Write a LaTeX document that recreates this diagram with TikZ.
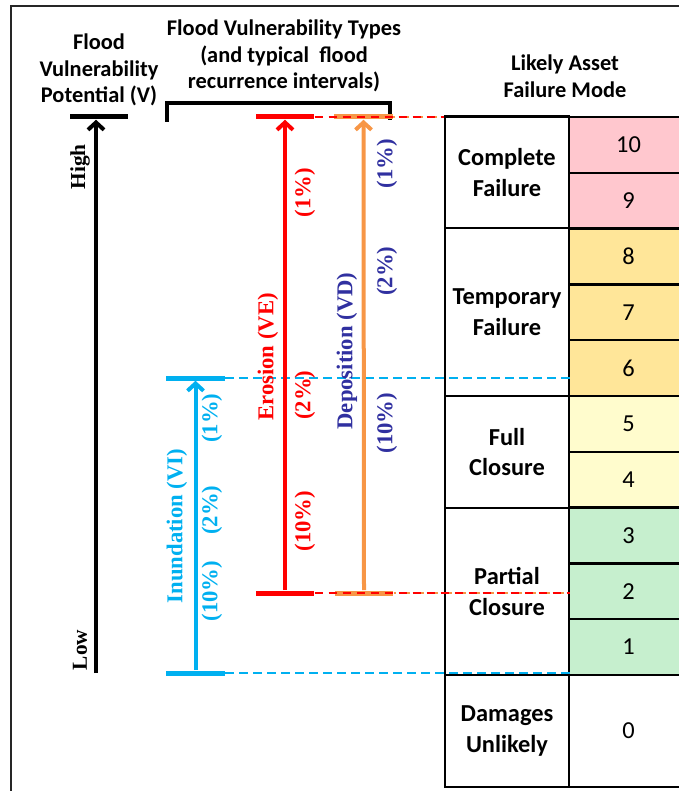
\documentclass[tikz,border=0pt]{standalone}
\usepackage{fontspec}
\setmainfont{Liberation Serif}
\newfontfamily\carlito{Carlito}
\usetikzlibrary{arrows.meta,positioning}
\definecolor{inund}{HTML}{00B0F0}
\definecolor{eros}{HTML}{FF0000}
\definecolor{depo}{HTML}{F79646}
\definecolor{depotext}{HTML}{3030A0}
\definecolor{failc}{HTML}{FFC7CE}
\definecolor{tempc}{HTML}{FFE699}
\definecolor{fullc}{HTML}{FFFCCD}
\definecolor{partc}{HTML}{C6EFCE}

\begin{document}
\begin{tikzpicture}[
    x=0.75pt, y=-0.75pt,
    head/.style={align=center, font=\carlito\bfseries\fontsize{16.8}{20}\selectfont},
    modecell/.style={draw, line width=1.8pt, minimum width=93pt, inner sep=0pt,
                     align=center, font=\carlito\bfseries\fontsize{18.3}{23}\selectfont},
    numcell/.style={draw, line width=1.8pt, minimum width=89.25pt, minimum height=41.85pt,
                    inner sep=0pt, font=\carlito\fontsize{18.3}{20}\selectfont},
    rot/.style={rotate=90, font=\bfseries\fontsize{17}{18}\selectfont},
    hbar/.style={fill, minimum width=44pt, minimum height=3.75pt, inner sep=0pt},
    arr/.style={line width=3pt, -{Straight Barb[length=5.5pt,width=12pt]}},
    guide/.style={line width=1.6pt, dash pattern=on 6.5pt off 4pt}
]
  \useasboundingbox (0,0) rectangle (678,791);
  \draw[line width=1pt, black!85] (11,6) rectangle (690,800);

  % headings
  \node[head] (vhead) at (99,70) {Flood\\Vulnerability\\Potential (V)};
  \node[head] (thead) at (284,56) {Flood Vulnerability Types\\(and typical~ flood\\recurrence intervals)};
  \node[head] (mhead) at (565,76) {Likely Asset\\Failure Mode};
  \draw[line width=3pt] (167,122) -- (167,103) -- (390,103) -- (390,120);

  % failure modes table
  \node[modecell, minimum height=83.7pt] (complete) at (507,172.5) {Complete\\Failure};
  \node[modecell, minimum height=125.55pt] (temporary) at (507,312) {Temporary\\Failure};
  \node[modecell, minimum height=83.7pt] (full) at (507,452) {Full\\Closure};
  \node[modecell, minimum height=125.55pt] (partial) at (507,591.5) {Partial\\Closure};
  \node[modecell, minimum height=84pt] (unlikely) at (507,731) {Damages\\Unlikely};
  \foreach \n/\c in {10/failc,9/failc,8/tempc,7/tempc,6/tempc,5/fullc,4/fullc,3/partc,2/partc,1/partc}
    \node[numcell, fill=\c] (n\n) at (628.5,{117+(10.5-\n)*55.8}) {\n};
  \node[numcell, minimum height=84pt] (n0) at (628.5,731) {0};

  % potential axis
  \node[hbar] (vhi) at (99,117) {};
  \coordinate (vlo) at (96,673);
  \draw[arr] (vlo) -- (vlo |- vhi.south);
  \node[rot, font=\bfseries\fontsize{16}{18}\selectfont] (high) at (80,167) {High};
  \node[rot, font=\bfseries\fontsize{16}{18}\selectfont] (low) at (80,650) {Low};

  % inundation
  \node[hbar, inund] (ihi) at (195.5,378) {};
  \node[hbar, inund] (ilo) at (195.5,673) {};
  \draw[arr, inund] (ilo.north) -- (ihi.south);
  \draw[guide, inund] (ihi.east) -- (ihi.east -| temporary.east);
  \draw[guide, inund] (ilo.east) -- (ilo.east -| partial.east);
  \node[rot, inund] (ilab) at (177,526) {Inundation (VI)};
  \node[rot, inund] (i1) at (212,418) {(1\%)};
  \node[rot, inund] (i2) at (212,510) {(2\%)};
  \node[rot, inund] (i10) at (212,591) {(10\%)};

  % deposition
  \node[hbar, depo] (dhi) at (363.5,117) {};
  \node[hbar, depo] (dlo) at (364,593) {};
  \draw[arr, depo] (dlo.north) -- (dhi.south);
  \draw[guide, depo, dash phase=5pt] (dhi.east) -- (dhi.east -| complete.west);
  \draw[guide, depo, dash phase=5pt] (dlo.east) -- (dlo.east -| partial.east);
  \node[rot, depotext] (dlab) at (347,351) {Deposition (VD)};
  \node[rot, depotext] (d1) at (387,164) {(1\%)};
  \node[rot, depotext] (d2) at (387,271) {(2\%)};
  \node[rot, depotext] (d10) at (387,423) {(10\%)};

  % erosion
  \node[hbar, eros] (ehi) at (285,117) {};
  \node[hbar, eros] (elo) at (285,593) {};
  \draw[arr, eros] (elo.north) -- (ehi.south);
  \draw[guide, eros] (ehi.east) -- (ehi.east -| complete.west);
  \draw[guide, eros] (elo.east) -- (elo.east -| partial.east);
  \node[rot, eros] (elab) at (268,357) {Erosion (VE)};
  \node[rot, eros] (e1) at (305,193) {(1\%)};
  \node[rot, eros] (e2) at (305,395) {(2\%)};
  \node[rot, eros] (e10) at (305,521) {(10\%)};
\end{tikzpicture}
\end{document}
